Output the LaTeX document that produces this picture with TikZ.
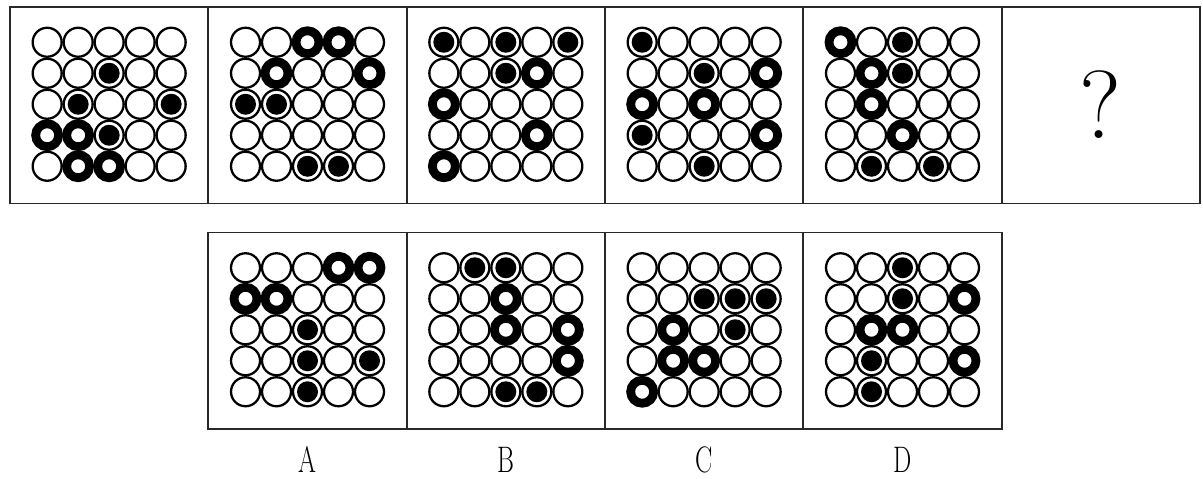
\documentclass[tikz,border=0pt]{standalone}
\usepackage{graphicx}
\usepackage{tikz}
\usetikzlibrary{positioning, calc}
\definecolor{frameline}{RGB}{40, 40, 40}

\newcommand{\cellgrid}[2]{%
  \foreach \c [count=\i from 0] in {#2} {
    \pgfmathtruncatemacro{\col}{mod(\i,5)}
    \pgfmathtruncatemacro{\row}{div(\i,5)}
    \node [cell\c] (#1-\i) at ($(#1.center)+(0.62*\col-1.24, 1.26-0.62*\row)$) {};
  }}

\begin{document}
\begin{tikzpicture}[
    panel/.style={rectangle, draw=frameline, line width=1.1pt, minimum width=3.9667cm, minimum height=3.93cm, inner sep=0pt, outer sep=0pt},
    cello/.style={circle, draw=black, line width=1.3pt, minimum size=0.58cm, inner sep=0pt},
    cellr/.style={circle, draw=black, line width=5pt, minimum size=0.46cm, inner sep=0pt},
    celld/.style={circle, draw=black, line width=1.3pt, minimum size=0.58cm, inner sep=0pt, path picture={\fill[black] (path picture bounding box.center) circle[radius=0.21cm];}},
    lbl/.style={inner sep=0pt, font=\fontsize{21}{21}\selectfont}
  ]
    \useasboundingbox (0,0) rectangle (24.06,-9.58);

    \node [panel, anchor=north west] (t1) at (0.2,-0.14) {};
    \node [panel, right=0pt of t1] (t2) {};
    \node [panel, right=0pt of t2] (t3) {};
    \node [panel, right=0pt of t3] (t4) {};
    \node [panel, right=0pt of t4] (t5) {};
    \node [panel, right=0pt of t5] (t6) {};

    \node [panel, below=0.58cm of t2] (b1) {};
    \node [panel, right=0pt of b1] (b2) {};
    \node [panel, right=0pt of b2] (b3) {};
    \node [panel, right=0pt of b3] (b4) {};

    \cellgrid{t1}{o,o,o,o,o, o,o,d,o,o, o,d,o,o,d, r,r,d,o,o, o,r,r,o,o}
    \cellgrid{t2}{o,o,r,r,o, o,r,o,o,r, d,d,o,o,o, o,o,o,o,o, o,o,d,d,o}
    \cellgrid{t3}{d,o,d,o,d, o,o,d,r,o, r,o,o,o,o, o,o,o,r,o, r,o,o,o,o}
    \cellgrid{t4}{d,o,o,o,o, o,o,d,o,r, r,o,r,o,o, d,o,o,o,r, o,o,d,o,o}
    \cellgrid{t5}{r,o,d,o,o, o,r,d,o,o, o,r,o,o,o, o,o,r,o,o, o,d,o,d,o}
    \node [font=\fontsize{55}{60}\selectfont] (qmark) at ($(t6.center)+(0,0.02)$) {?};

    \cellgrid{b1}{o,o,o,r,r, r,r,o,o,o, o,o,d,o,o, o,o,d,o,d, o,o,d,o,o}
    \cellgrid{b2}{o,d,d,o,o, o,o,r,o,o, o,o,r,o,r, o,o,o,o,r, o,o,d,d,o}
    \cellgrid{b3}{o,o,o,o,o, o,o,d,d,d, o,r,o,d,o, o,r,r,o,o, r,o,o,o,o}
    \cellgrid{b4}{o,o,d,o,o, o,o,d,o,r, o,r,r,o,o, o,d,o,o,r, o,d,o,o,o}

    \node [lbl, below=0.35cm of b1] (lblA) {\scalebox{0.7}[1]{A}};
    \node [lbl, below=0.35cm of b2] (lblB) {\scalebox{0.7}[1]{B}};
    \node [lbl, below=0.35cm of b3] (lblC) {\scalebox{0.7}[1]{C}};
    \node [lbl, below=0.35cm of b4] (lblD) {\scalebox{0.7}[1]{D}};
\end{tikzpicture}
\end{document}
